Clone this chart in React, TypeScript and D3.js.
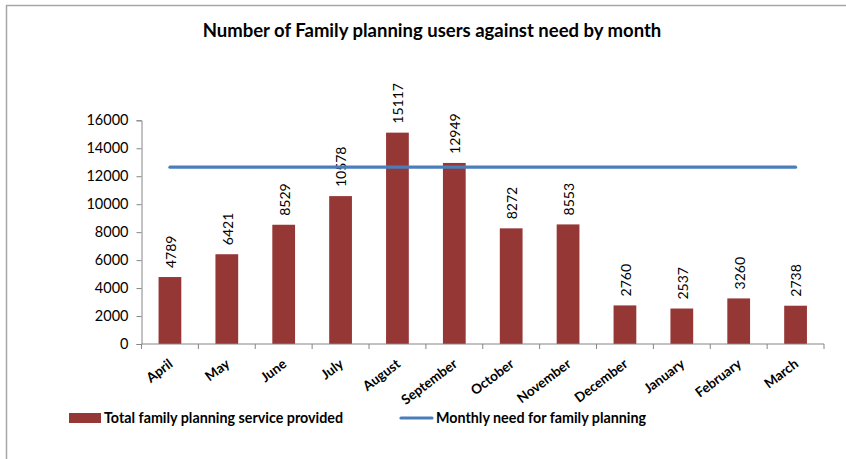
import * as d3 from "d3";
import React, { useEffect, useRef } from "react";

const months = [
  "April", "May", "June", "July", "August", "September",
  "October", "November", "December", "January", "February", "March",
];
const servicesProvided = [4789, 6421, 8529, 10578, 15117, 12949, 8272, 8553, 2760, 2537, 3260, 2738];
const monthlyNeed = [12650, 12650, 12650, 12650, 12650, 12650, 12650, 12650, 12650, 12650, 12650, 12650];
const yTicks = [0, 2000, 4000, 6000, 8000, 10000, 12000, 14000, 16000];

const seriesNames = ["Total family planning service provided", "Monthly need for family planning"];
const title = "Number of Family planning users against need by month";

const BAR_COLOR = "#953735";
const LINE_COLOR = "#4a7ebb";
const AXIS_COLOR = "#868686";
const FONT = "Lato, 'Open Sans', sans-serif";

const Chart = () => {
  const ref = useRef<SVGSVGElement | null>(null);

  useEffect(() => {
    const width = 846;
    const height = 459;
    const margin = { top: 120, right: 22, bottom: 115, left: 141.5 };

    const svg = d3.select(ref.current);
    svg.selectAll("*").remove();
    svg.attr("width", width).attr("height", height).style("font-family", FONT);

    svg.append("rect").attr("width", width).attr("height", height).attr("fill", "#fff");

    // chart frame (only top and left edges are visible in the crop)
    svg.append("path")
      .attr("d", `M6.5,${height} V5.5 H${width}`)
      .attr("fill", "none")
      .attr("stroke", "#a6a6a6")
      .attr("stroke-width", 1.5);

    const x = d3.scaleBand()
      .domain(months)
      .range([margin.left, width - margin.right])
      .paddingInner(0.6)
      .paddingOuter(0.3);

    const y = d3.scaleLinear()
      .domain([0, 16000])
      .range([height - margin.bottom, margin.top + 0.3]);

    const xStep = x.step();
    const center = (m: string) => (x(m) ?? 0) + x.bandwidth() / 2;

    svg.append("text")
      .attr("x", 432)
      .attr("y", 37)
      .attr("text-anchor", "middle")
      .style("font-size", "18.5px")
      .style("font-weight", "bold")
      .text(title);

    // y axis
    const yAxis = svg.append("g")
      .attr("transform", `translate(${margin.left},0)`)
      .call(d3.axisLeft(y).tickValues(yTicks).tickSize(5).tickPadding(8).tickFormat(d3.format("d")));
    yAxis.select(".domain").attr("stroke", AXIS_COLOR);
    yAxis.selectAll(".tick line").attr("stroke", AXIS_COLOR);
    yAxis.selectAll(".tick text")
      .attr("fill", "#000")
      .style("font-size", "14.5px")
      .style("font-family", FONT);

    // bars
    svg.append("g")
      .selectAll("rect")
      .data(servicesProvided)
      .join("rect")
      .attr("x", (_, i) => x(months[i]) ?? 0)
      .attr("y", (d) => y(d))
      .attr("width", x.bandwidth())
      .attr("height", (d) => y(0) - y(d))
      .attr("fill", BAR_COLOR);

    // value labels
    svg.append("g")
      .selectAll("text")
      .data(servicesProvided)
      .join("text")
      .attr("transform", (d, i) => `translate(${center(months[i]) + 1},${y(d) - 9}) rotate(-90)`)
      .attr("dy", "0.35em")
      .style("font-size", "14px")
      .text((d) => d);

    // x axis
    const xAxisY = y(0);
    svg.append("line")
      .attr("x1", margin.left)
      .attr("x2", width - margin.right)
      .attr("y1", xAxisY)
      .attr("y2", xAxisY)
      .attr("stroke", AXIS_COLOR);
    svg.append("g")
      .selectAll("line")
      .data(d3.range(months.length + 1))
      .join("line")
      .attr("x1", (i) => margin.left + i * xStep)
      .attr("x2", (i) => margin.left + i * xStep)
      .attr("y1", xAxisY)
      .attr("y2", xAxisY + 5)
      .attr("stroke", AXIS_COLOR);

    svg.append("g")
      .selectAll("text")
      .data(months)
      .join("text")
      .attr("text-anchor", "end")
      .attr("transform", (m) => `translate(${center(m) + 1},${xAxisY + 18}) rotate(-37)`)
      .attr("dy", "0.35em")
      .style("font-size", "13.5px")
      .style("font-weight", "bold")
      .text((m) => m);

    // need line
    const line = d3.line<number>()
      .x((_, i) => center(months[i]))
      .y((d) => y(d));
    svg.append("path")
      .datum(monthlyNeed)
      .attr("d", line)
      .attr("fill", "none")
      .attr("stroke", LINE_COLOR)
      .attr("stroke-width", 3.2)
      .attr("stroke-linecap", "round");

    // legend
    const legendY = 418;
    const lg = svg.append("g").style("font-size", "14.3px").style("font-weight", "bold");
    lg.append("rect").attr("x", 69).attr("y", legendY - 5).attr("width", 32).attr("height", 10).attr("fill", BAR_COLOR);
    lg.append("text").attr("x", 104).attr("y", legendY).attr("dy", "0.35em").text(seriesNames[0]);
    lg.append("line")
      .attr("x1", 401).attr("x2", 432)
      .attr("y1", legendY).attr("y2", legendY)
      .attr("stroke", LINE_COLOR).attr("stroke-width", 3.2).attr("stroke-linecap", "round");
    lg.append("text").attr("x", 436).attr("y", legendY).attr("dy", "0.35em").text(seriesNames[1]);
  }, []);

  return <svg ref={ref} style={{ display: "block" }} />;
};

export default function App() {
  return (
    <div style={{ position: "absolute", left: 0, top: 0 }}>
      <Chart />
    </div>
  );
}
